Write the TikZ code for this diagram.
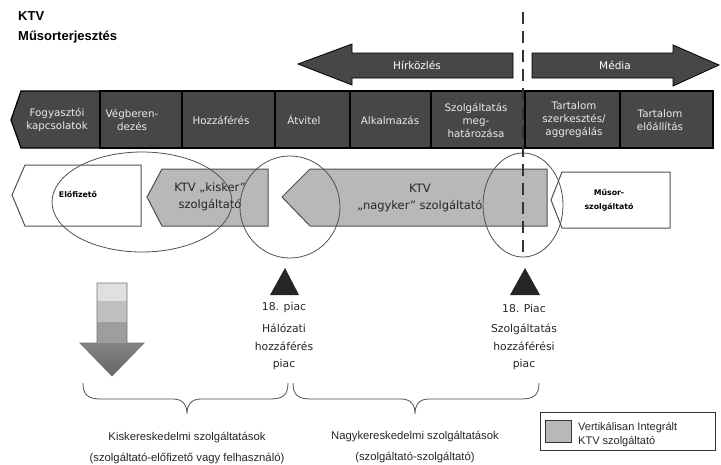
\documentclass[tikz,border=0pt]{standalone}
\usepackage{fontspec}
\setmainfont{DejaVu Sans}
\newfontfamily\libsans{Liberation Sans}
\definecolor{dk}{HTML}{474747}
\definecolor{lg}{HTML}{B8B8B8}
\definecolor{ln}{HTML}{505050}
\begin{document}
\begin{tikzpicture}[x=1pt,y=-1pt,
  chaincell/.style={draw=black, line width=1.2pt, fill=dk},
  chainlbl/.style={text=white!92!black, font=\fontsize{10.3}{13}\selectfont, align=center, inner sep=0pt},
  bigarrow/.style={draw=black, line width=0.8pt, fill=dk},
  arrowlbl/.style={text=white, font=\fontsize{10.5}{12}\selectfont, inner sep=0pt},
  actorbox/.style={draw=ln, line width=1pt},
  actorlbl/.style={font=\fontsize{11.5}{17}\selectfont, align=center, inner sep=0pt, text=black!85},
  tinylbl/.style={font=\bfseries\fontsize{7.8}{14}\selectfont, align=center, inner sep=0pt},
  ring/.style={draw=ln, line width=0.8pt},
  marker/.style={fill=black!85, draw=none},
  mktlbl/.style={font=\fontsize{10.8}{17.5}\selectfont, align=center, inner sep=0pt, text=black!85},
  bracepath/.style={draw=ln, line width=0.8pt},
  botlbl/.style={font=\libsans\fontsize{11.3}{21}\selectfont, align=center, inner sep=0pt, text=black!85},
  titlelbl/.style={font=\libsans\bfseries\fontsize{13}{15}\selectfont, anchor=base west, inner sep=0pt}
]
\useasboundingbox (0,0) rectangle (721,464);

% title
\node[titlelbl] (t1) at (18,20) {KTV};
\node[titlelbl] (t2) at (18,40) {Műsorterjesztés};

% top arrows
\path[bigarrow] (298,64) -- (352,44) -- (352,53) -- (513,53) -- (513,78) -- (352,78) -- (352,85) -- cycle;
\node[arrowlbl] (hir) at (417,65) {Hírközlés};
\path[bigarrow] (532,53) -- (673,53) -- (673,45) -- (719,65) -- (673,86) -- (673,78) -- (532,78) -- cycle;
\node[arrowlbl] (med) at (615,65) {Média};

% value chain bar
\path[chaincell] (11,120) -- (21,91) -- (100,91) -- (100,148) -- (21,148) -- cycle;
\path[chaincell] (100,91) rectangle (182,148);
\path[chaincell] (182,91) rectangle (275,148);
\path[chaincell] (275,91) rectangle (350,148);
\path[chaincell] (350,91) rectangle (431,148);
\path[chaincell] (431,91) rectangle (525,148);
\path[chaincell] (525,91) rectangle (620,148);
\path[chaincell] (620,91) rectangle (713,148);
\node[chainlbl] (c1) at (57,120) {Fogyasztói\\kapcsolatok};
\node[chainlbl] (c2) at (132,120) {Végberen-\\dezés};
\node[chainlbl] (c3) at (221,120) {Hozzáférés};
\node[chainlbl] (c4) at (304,120) {Átvitel};
\node[chainlbl] (c5) at (390,120) {Alkalmazás};
\node[chainlbl] (c6) at (476,120) {Szolgáltatás\\meg-\\határozása};
\node[chainlbl] (c7) at (574,120) {Tartalom\\szerkesztés/\\aggregálás};
\node[chainlbl] (c8) at (660,120) {Tartalom\\előállítás};

% actors row
\path[actorbox, fill=white] (12,195) -- (25,165) -- (141,165) -- (141,226) -- (25,226) -- cycle;
\node[tinylbl] (elo) at (78,194) {Előfizető};
\path[actorbox, fill=lg] (147,197) -- (162,169) -- (268,169) -- (268,226) -- (162,226) -- cycle;
\node[actorlbl] (kis) at (210,197) {KTV „kisker”\\szolgáltató};
\path[actorbox, fill=lg] (282,197) -- (310,169) -- (547,169) -- (547,226) -- (310,226) -- cycle;
\node[actorlbl] (nagy) at (420,198) {KTV\\„nagyker" szolgáltató};
\path[actorbox, fill=white] (551,200) -- (562,172) -- (670,172) -- (670,228) -- (562,228) -- cycle;
\node[tinylbl] (musor) at (609,200) {Műsor-\\szolgáltató};

% rings
\draw[ring] (142,202) ellipse [x radius=90, y radius=50];
\draw[ring] (290,207) ellipse [x radius=50, y radius=51];
\draw[ring] (523,205) ellipse [x radius=40, y radius=52];

% dashed border line
\draw[black!80, line width=2.4pt, dash pattern=on 12pt off 7pt] (523,12) -- (523,258);

% market markers
\path[marker] (285,268) -- (299,295) -- (270,295) -- cycle;
\path[marker] (525,268) -- (540,295) -- (510,295) -- cycle;
\node[mktlbl] (p1) at (284,308) {18. piac};
\node[mktlbl, anchor=north] (m1) at (284,324) {Hálózati\\hozzáférés\\piac};
\node[mktlbl] (p2) at (524,308) {18. Piac};
\node[mktlbl, anchor=north] (m2) at (524,324) {Szolgáltatás\\hozzáférési\\piac};

% down arrow with bands
\begin{scope}
\clip (97,283) -- (127,283) -- (127,343) -- (144,343) -- (112,376) -- (80,343) -- (97,343) -- cycle;
\fill[black!12] (60,280) rectangle (160,301);
\fill[black!25] (60,301) rectangle (160,322);
\fill[black!38] (60,322) rectangle (160,343);
\shade[top color=black!48, bottom color=black!62] (60,343) rectangle (160,380);
\end{scope}
\draw[black!55, line width=0.7pt] (97,283) -- (127,283) -- (127,343) -- (144,343) -- (112,376) -- (80,343) -- (97,343) -- cycle;

% braces
\coordinate (b1l) at (83,383);
\coordinate (b1r) at (288,383);
\coordinate (b2l) at (293,383);
\coordinate (b2r) at (539,383);
\draw[bracepath] (b1l) .. controls (83,395) and (88,399) .. (101,399) -- (173,399) .. controls (183,399) and (187,405) .. (187,414) .. controls (187,405) and (191,399) .. (201,399) -- (270,399) .. controls (283,399) and (288,395) .. (b1r);
\draw[bracepath] (b2l) .. controls (293,395) and (298,399) .. (311,399) -- (401,399) .. controls (411,399) and (415,405) .. (415,414) .. controls (415,405) and (419,399) .. (429,399) -- (521,399) .. controls (534,399) and (539,395) .. (b2r);
\node[botlbl] (kisker) at (187,448) {Kiskereskedelmi szolgáltatások\\(szolgáltató-előfizető vagy felhasználó)};
\node[botlbl] (nagyker) at (415,447) {Nagykereskedelmi szolgáltatások\\(szolgáltató-szolgáltató)};

% legend
\draw[black!80, line width=0.8pt] (540,412) rectangle (715,450);
\node[draw=black!80, line width=0.8pt, fill=lg, minimum width=26pt, minimum height=22pt, inner sep=0pt] (legsq) at (558,431) {};
\node[font=\libsans\fontsize{11}{14}\selectfont, align=left, anchor=west, inner sep=0pt, text=black!85] (legtxt) at (578,435) {Vertikálisan Integrált\\KTV szolgáltató};
\end{tikzpicture}
\end{document}
